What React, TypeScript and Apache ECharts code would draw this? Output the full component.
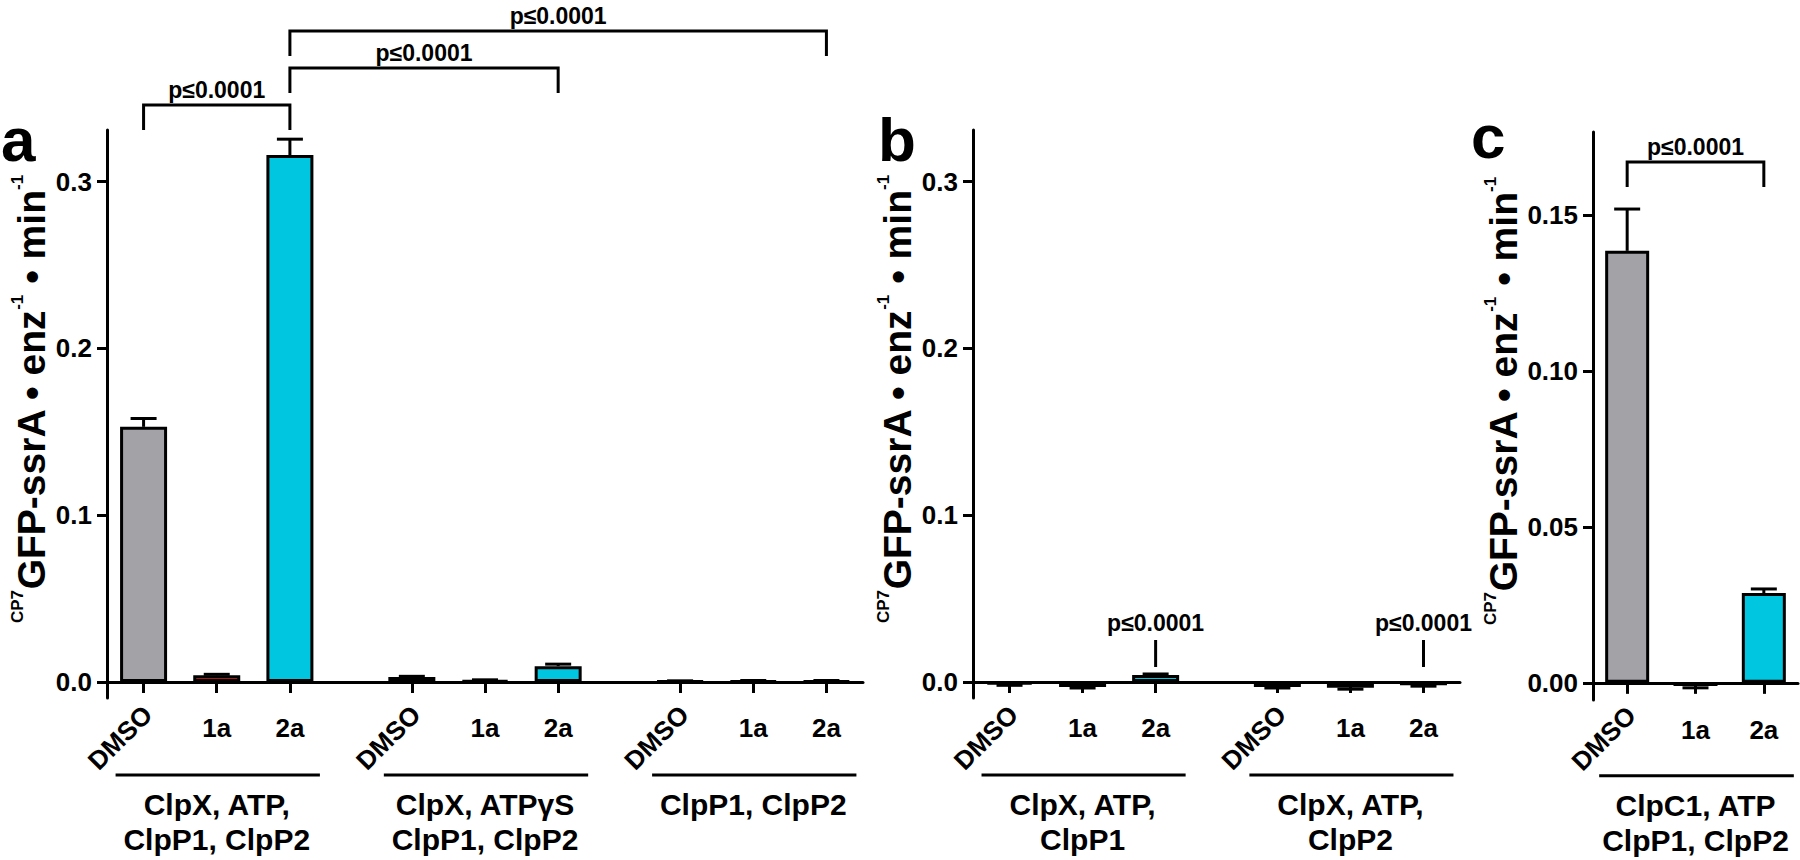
import React, { useEffect, useRef } from 'react';
import * as echarts from 'echarts';

// ---------------- data ----------------
const treatments = ['DMSO', '1a', '2a'];
const treatmentColors = ['#a2a2a7', '#e3201b', '#00c6df'];
const pLabel = 'p≤0.0001';

// panel a
const panelAGroups = [['ClpX, ATP,', 'ClpP1, ClpP2'], ['ClpX, ATPγS', 'ClpP1, ClpP2'], ['ClpP1, ClpP2']];
const panelAMeans = [[0.153, 0.004, 0.316], [0.003, 0.001, 0.0095], [0.0005, 0.0007, 0.0007]];
const panelAErrors = [[0.005, 0.0006, 0.0095], [0.0004, 0.0003, 0.0012], [0.0002, 0.0002, 0.0002]];
// comparisons: [group, item] -> [group, item]
const panelAComparisons = [[[0, 0], [0, 2]], [[0, 2], [1, 2]], [[0, 2], [2, 2]]];

// panel b
const panelBGroups = [['ClpX, ATP,', 'ClpP1'], ['ClpX, ATP,', 'ClpP2']];
const panelBMeans = [[-0.0015, -0.003, 0.0042], [-0.003, -0.0035, -0.002]];
const panelBErrors = [[0.0005, 0.0006, 0.0006], [0.0006, 0.0008, 0.0005]];
const panelBMarked = [[0, 2], [1, 2]];

// panel c
const panelCGroups = [['ClpC1, ATP', 'ClpP1, ClpP2']];
const panelCMeans = [[0.1385, -0.001, 0.0288]];
const panelCErrors = [[0.0134, 0.0006, 0.0013]];
const panelCComparisons = [[[0, 0], [0, 2]]];

const yTicksAB = [0, 0.1, 0.2, 0.3];
const yTicksC = [0, 0.05, 0.1, 0.15];
const panelLetters = ['a', 'b', 'c'];

// ---------------- layout / styles ----------------
const FONT = '"Liberation Sans", Arial, sans-serif';
const BLACK = '#000';

type PanelCfg = {
  groups: string[][]; means: number[][]; errors: number[][];
  comps: number[][][]; marks: number[][];
  grid: { left: number; top: number; width: number; height: number };
  yMin: number; yMax: number; ticks: number[]; dec: number;
  lead: number; step: number; stride: number; barWidth: number;
  bracketBase: number; nameGap: number; letterX: number; letterY: number;
};

const panels: PanelCfg[] = [
  {
    groups: panelAGroups, means: panelAMeans, errors: panelAErrors, comps: panelAComparisons, marks: [],
    grid: { left: 107, top: 130, width: 756, height: 568 }, yMin: -0.0096, yMax: 0.331, ticks: yTicksAB, dec: 1,
    lead: 1, step: 3, stride: 11, barWidth: 47, bracketBase: -25, nameGap: 54, letterX: 1, letterY: 139,
  },
  {
    groups: panelBGroups, means: panelBMeans, errors: panelBErrors, comps: [], marks: panelBMarked,
    grid: { left: 973, top: 130, width: 487, height: 568 }, yMin: -0.0096, yMax: 0.331, ticks: yTicksAB, dec: 1,
    lead: 1, step: 3, stride: 11, barWidth: 47, bracketBase: -25, nameGap: 54, letterX: 878, letterY: 139,
  },
  {
    groups: panelCGroups, means: panelCMeans, errors: panelCErrors, comps: panelCComparisons, marks: [],
    grid: { left: 1593, top: 132, width: 205, height: 568 }, yMin: -0.0055, yMax: 0.1766, ticks: yTicksC, dec: 2,
    lead: 0, step: 1, stride: 3, barWidth: 44, bracketBase: 30, nameGap: 64, letterX: 1471, letterY: 136,
  },
];

const slotOf = (P: PanelCfg, g: number, i: number) => P.lead + g * P.stride + i * P.step;
const slotCount = (P: PanelCfg) => P.lead + (P.groups.length - 1) * P.stride + (treatments.length - 1) * P.step + 1 + P.lead;

const yName = '{s|CP7}{m|GFP-ssrA • enz}{s|-1}{m| • min}{s|-1}';

function buildOption() {
  const grid: any[] = [];
  const xAxis: any[] = [];
  const yAxis: any[] = [];
  const series: any[] = [];
  const graphic: any[] = [];

  panels.forEach((P, p) => {
    grid.push({ ...P.grid, containLabel: false });
    const n = slotCount(P);
    const cats: string[] = [];
    const isSlot: boolean[] = [];
    for (let k = 0; k < n; k++) { cats.push('_' + k); isSlot.push(false); }
    const barData: any[] = new Array(n).fill('-');
    const errData: number[][] = [];
    const dmsoData: number[][] = [];
    P.groups.forEach((_, g) => {
      treatments.forEach((t, i) => {
        const s = slotOf(P, g, i);
        cats[s] = t + '|' + g;
        isSlot[s] = true;
        barData[s] = { value: P.means[g][i], itemStyle: { color: treatmentColors[i] } };
        errData.push([s, P.means[g][i], P.errors[g][i]]);
        if (t === 'DMSO') dmsoData.push([s, 0]);
      });
    });

    xAxis.push({
      type: 'category', gridIndex: p, data: cats, position: 'bottom',
      axisLine: { show: true, onZero: true, lineStyle: { color: BLACK, width: 3 } },
      axisTick: { show: true, alignWithLabel: true, interval: (idx: number) => isSlot[idx], length: 11, lineStyle: { color: BLACK, width: 3 } },
      axisLabel: {
        interval: 0, margin: 17, color: BLACK, fontFamily: FONT, fontWeight: 'bold', fontSize: 26,
        formatter: (v: string) => {
          if (v.indexOf('|') < 0) return '';
          const name = v.split('|')[0];
          return name === 'DMSO' ? '' : name;
        },
      },
      splitLine: { show: false },
    });

    yAxis.push({
      type: 'value', gridIndex: p, min: P.yMin, max: P.yMax,
      axisLine: { show: true, lineStyle: { color: BLACK, width: 3 } },
      axisTick: { show: true, customValues: P.ticks, length: 10, lineStyle: { color: BLACK, width: 3 } },
      axisLabel: {
        customValues: P.ticks, margin: 15, color: BLACK, fontFamily: FONT, fontWeight: 'bold', fontSize: 26,
        formatter: (v: number) => v.toFixed(P.dec),
      },
      splitLine: { show: false },
      name: yName, nameLocation: 'middle', nameGap: P.nameGap, nameRotate: 90,
      nameTextStyle: {
        padding: [0, 0, 0, 30],
        rich: {
          m: { fontFamily: FONT, fontWeight: 'bold', fontSize: 39, color: BLACK, lineHeight: 44 },
          s: { fontFamily: FONT, fontWeight: 'bold', fontSize: 17, color: BLACK, lineHeight: 18, verticalAlign: 'top' },
        },
      },
    });

    series.push({
      type: 'bar', xAxisIndex: p, yAxisIndex: p, data: barData, barWidth: P.barWidth,
      itemStyle: { borderColor: BLACK, borderWidth: 3 },
    });

    series.push({
      type: 'custom', xAxisIndex: p, yAxisIndex: p, data: errData, encode: { x: 0, y: 1 },
      renderItem: (params: any, api: any) => {
        const x = api.value(0), m = api.value(1), e = api.value(2);
        const end = m >= 0 ? m + e : m - e;
        const p0 = api.coord([x, m]);
        const p1 = api.coord([x, end]);
        return {
          type: 'group', children: [
            { type: 'line', shape: { x1: p0[0], y1: p0[1], x2: p1[0], y2: p1[1] }, style: { stroke: BLACK, lineWidth: 3 } },
            { type: 'line', shape: { x1: p1[0] - 13, y1: p1[1], x2: p1[0] + 13, y2: p1[1] }, style: { stroke: BLACK, lineWidth: 3 } },
          ],
        };
      },
    });

    // rotated DMSO tick labels
    series.push({
      type: 'custom', xAxisIndex: p, yAxisIndex: p, data: dmsoData, encode: { x: 0, y: 1 },
      renderItem: (params: any, api: any) => {
        const pt = api.coord([api.value(0), 0]);
        return {
          type: 'text', x: pt[0] + 4, y: pt[1] + 28, rotation: Math.PI / 4,
          style: { text: 'DMSO', align: 'right', verticalAlign: 'middle', font: `bold 26px ${FONT}`, fill: BLACK },
        };
      },
    });

    // group underline + labels
    const groupData = P.groups.map((_, g) => [slotOf(P, g, 0), 0, slotOf(P, g, treatments.length - 1), g]);
    series.push({
      type: 'custom', xAxisIndex: p, yAxisIndex: p, data: groupData, encode: { x: 0, y: 1 },
      renderItem: (params: any, api: any) => {
        const a = api.coord([api.value(0), 0]);
        const b = api.coord([api.value(2), 0]);
        const g = api.value(3);
        const zy = a[1];
        const x1 = a[0] - 28, x2 = b[0] + 30;
        return {
          type: 'group', children: [
            { type: 'line', shape: { x1, y1: zy + 93, x2, y2: zy + 93 }, style: { stroke: BLACK, lineWidth: 3 } },
            {
              type: 'text', x: (a[0] + b[0]) / 2, y: zy + 105,
              style: { text: P.groups[g].join('\n'), align: 'center', verticalAlign: 'top', lineHeight: 35, font: `bold 30px ${FONT}`, fill: BLACK },
            },
          ],
        };
      },
    });

    // significance brackets
    if (P.comps.length) {
      const compData = P.comps.map((c, k) => [slotOf(P, c[0][0], c[0][1]), 0, slotOf(P, c[1][0], c[1][1]), k]);
      series.push({
        type: 'custom', xAxisIndex: p, yAxisIndex: p, data: compData, encode: { x: 0, y: 1 },
        renderItem: (params: any, api: any) => {
          const xa = api.coord([api.value(0), 0])[0];
          const xb = api.coord([api.value(2), 0])[0];
          const lvl = api.value(3);
          const top = api.coord([api.value(0), P.yMax])[1];
          const y = top + P.bracketBase - lvl * 37;
          return {
            type: 'group', children: [
              { type: 'polyline', shape: { points: [[xa, y + 25], [xa, y], [xb, y], [xb, y + 25]] }, style: { stroke: BLACK, lineWidth: 3, fill: 'none' } },
              { type: 'text', x: (xa + xb) / 2, y: y - 4, style: { text: pLabel, align: 'center', verticalAlign: 'bottom', font: `bold 23px ${FONT}`, fill: BLACK } },
            ],
          };
        },
      });
    }

    // single markers (panel b)
    if (P.marks.length) {
      const markData = P.marks.map((m) => [slotOf(P, m[0], m[1]), 0]);
      series.push({
        type: 'custom', xAxisIndex: p, yAxisIndex: p, data: markData, encode: { x: 0, y: 1 },
        renderItem: (params: any, api: any) => {
          const pt = api.coord([api.value(0), 0]);
          return {
            type: 'group', children: [
              { type: 'line', shape: { x1: pt[0], y1: pt[1] - 42, x2: pt[0], y2: pt[1] - 15 }, style: { stroke: BLACK, lineWidth: 3 } },
              { type: 'text', x: pt[0], y: pt[1] - 59, style: { text: pLabel, align: 'center', verticalAlign: 'middle', font: `bold 23px ${FONT}`, fill: BLACK } },
            ],
          };
        },
      });
    }

    graphic.push({
      type: 'text', x: P.letterX, y: P.letterY,
      style: { text: panelLetters[p], font: `bold 62px ${FONT}`, fill: BLACK, align: 'left', verticalAlign: 'middle' },
    });
  });

  return { animation: false, backgroundColor: '#fff', grid, xAxis, yAxis, series, graphic };
}

export default function App() {
  const ref = useRef<HTMLDivElement>(null);
  useEffect(() => {
    const chart = echarts.init(ref.current as HTMLDivElement, null, { renderer: 'svg' });
    chart.setOption(buildOption() as any);
    return () => chart.dispose();
  }, []);
  return <div ref={ref} style={{ position: 'fixed', left: 0, top: 0, width: 1800, height: 860, background: '#fff' }} />;
}
